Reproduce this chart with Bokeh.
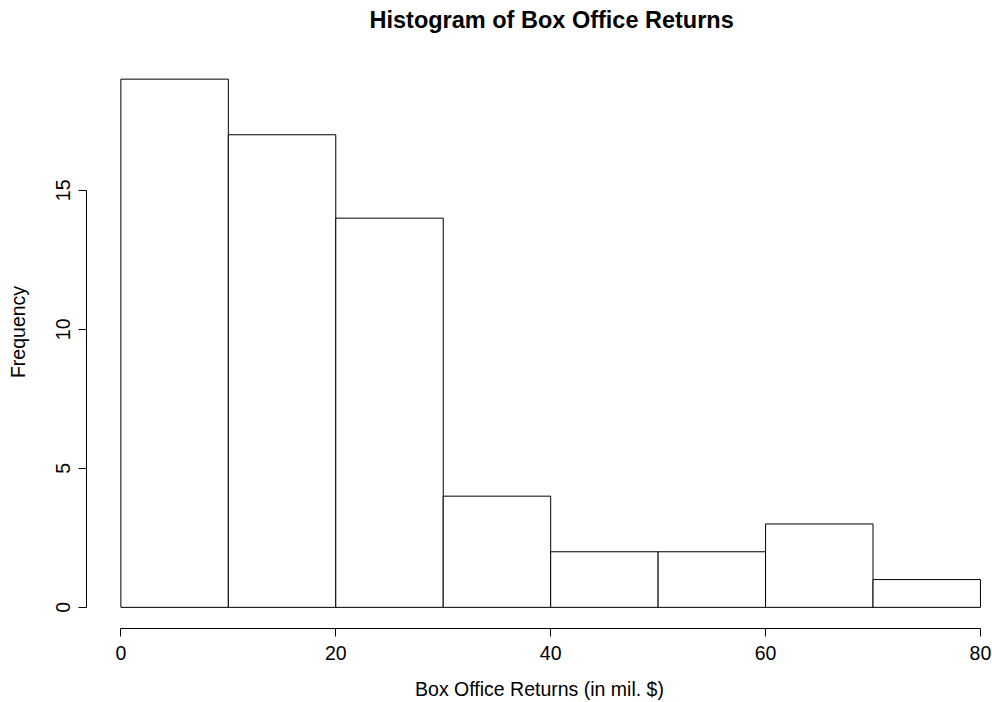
from bokeh.plotting import figure
from bokeh.models import Range1d, FixedTicker
from bokeh.embed import file_html
from bokeh.resources import INLINE

# Histogram bins (in mil. $) and counts per bin
bin_edges = [0, 10, 20, 30, 40, 50, 60, 70, 80]
counts = [19, 17, 14, 4, 2, 2, 3, 1]
x_ticks = [0, 20, 40, 60, 80]
y_ticks = [0, 5, 10, 15]

FONT = "Liberation Sans"

p = figure(
    width=992, height=702,
    output_backend="svg", toolbar_location=None,
    x_range=Range1d(-3.2, 81.12), y_range=Range1d(-0.76, 20.57),
    min_border_left=86, min_border_right=0,
    min_border_top=35, min_border_bottom=74,
    title="Histogram of Box Office Returns",
)

p.quad(left=bin_edges[:-1], right=bin_edges[1:], bottom=0, top=counts,
       fill_color="white", line_color="black", line_width=1)

p.title.align = "left"
p.title.text_font = FONT
p.title.text_font_size = "23.5px"
p.title.text_font_style = "bold"
p.title.text_color = "black"
p.title.offset = 283
p.title.standoff = 5

p.xgrid.visible = False
p.ygrid.visible = False
p.outline_line_color = None

xa = p.xaxis[0]
xa.bounds = (0, 80)
xa.ticker = FixedTicker(ticks=x_ticks)
xa.axis_label = "Box Office Returns (in mil. $)"
ya = p.yaxis[0]
ya.bounds = (0, 15)
ya.ticker = FixedTicker(ticks=y_ticks)
ya.axis_label = "Frequency"
ya.major_label_orientation = "vertical"

for ax in (xa, ya):
    ax.axis_line_color = "black"
    ax.major_tick_line_color = "black"
    ax.major_tick_out = 8
    ax.major_tick_in = 0
    ax.minor_tick_line_color = None
    ax.major_label_text_font = FONT
    ax.major_label_text_font_size = "19.5px"
    ax.major_label_text_color = "black"
    ax.axis_label_text_font = FONT
    ax.axis_label_text_font_size = "19.5px"
    ax.axis_label_text_font_style = "normal"
    ax.axis_label_text_color = "black"

xa.major_label_standoff = 9
xa.axis_label_standoff = 15
ya.major_label_standoff = 8
ya.axis_label_standoff = 25

open("out.html", "w").write(file_html(p, INLINE))
